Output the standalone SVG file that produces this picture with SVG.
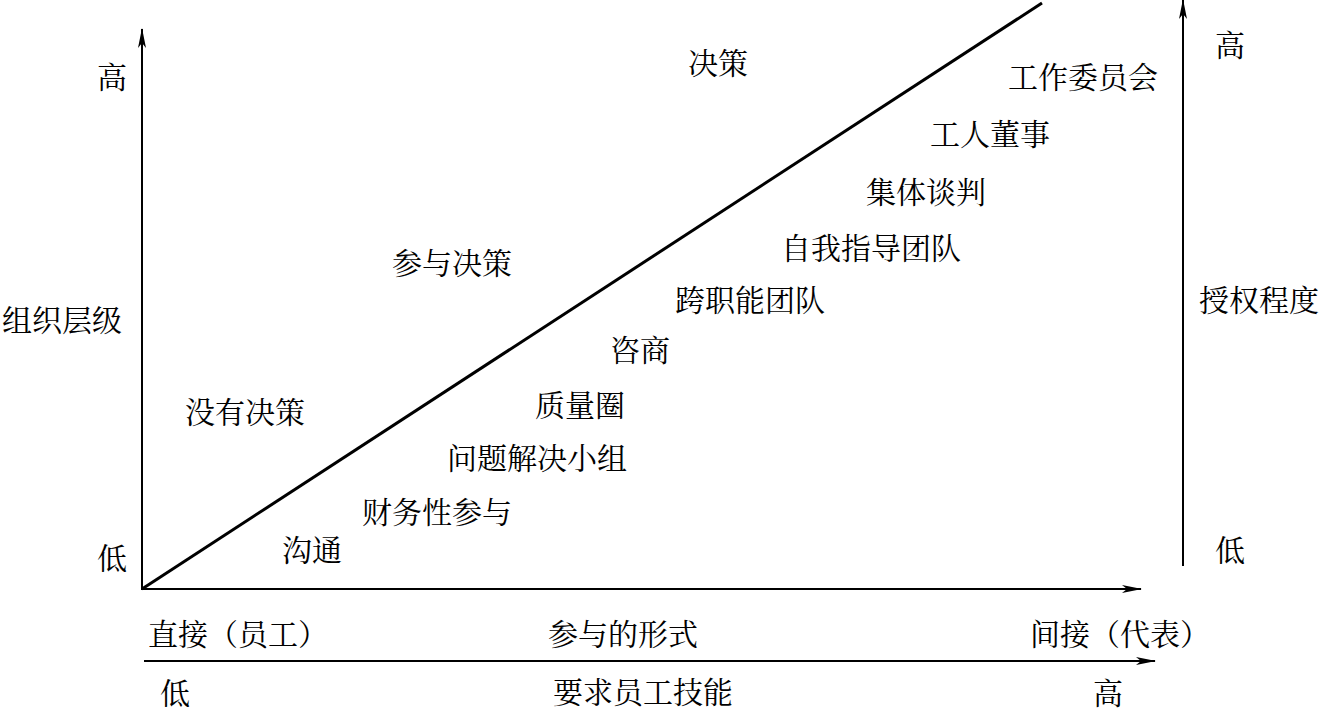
<svg xmlns="http://www.w3.org/2000/svg" width="1322" height="713" viewBox="0 0 1322 713">
<style>
text{font-family:"Noto Serif CJK SC","Noto Sans CJK SC",serif;font-size:30px;fill:#000}
.ax{stroke:#000;stroke-width:2;fill:none}
.diag{stroke:#000;stroke-width:3;fill:none}
</style>
<defs>
<marker id="ah" viewBox="0 0 20 8" refX="19" refY="4" markerWidth="20" markerHeight="8" markerUnits="userSpaceOnUse" orient="auto">
<path d="M0,0 L20,4 L0,8 L5,4 Z" fill="#000"/>
</marker>
</defs>
<g id="connectors">
<line class="ax" x1="142" y1="590" x2="142" y2="29" marker-end="url(#ah)"/>
<line class="ax" x1="142" y1="589" x2="1141" y2="589" marker-end="url(#ah)"/>
<line class="ax" x1="144" y1="661" x2="1155" y2="661" marker-end="url(#ah)"/>
<line class="ax" x1="1183" y1="566" x2="1183" y2="0" marker-end="url(#ah)"/>
<line class="diag" x1="142" y1="589" x2="1042" y2="3"/>
</g>
<g id="axis-labels">
<text x="97" y="88">高</text>
<text x="97" y="569">低</text>
<text x="2" y="331">组织层级</text>
<text x="1199" y="311">授权程度</text>
<text x="1215" y="56">高</text>
<text x="1215" y="561">低</text>
<text x="148" y="645">直接（员工）</text>
<text x="548" y="645">参与的形式</text>
<text x="1030" y="645">间接（代表）</text>
<text x="160" y="704">低</text>
<text x="553" y="703">要求员工技能</text>
<text x="1093" y="704">高</text>
</g>
<g id="regions">
<text x="688" y="74">决策</text>
<text x="392" y="274">参与决策</text>
<text x="185" y="423">没有决策</text>
</g>
<g id="forms">
<text x="1008" y="88">工作委员会</text>
<text x="930" y="145">工人董事</text>
<text x="866" y="203">集体谈判</text>
<text x="781" y="259">自我指导团队</text>
<text x="675" y="311">跨职能团队</text>
<text x="610" y="361">咨商</text>
<text x="535" y="416">质量圈</text>
<text x="447" y="469">问题解决小组</text>
<text x="362" y="523">财务性参与</text>
<text x="282" y="561">沟通</text>
</g>
</svg>
